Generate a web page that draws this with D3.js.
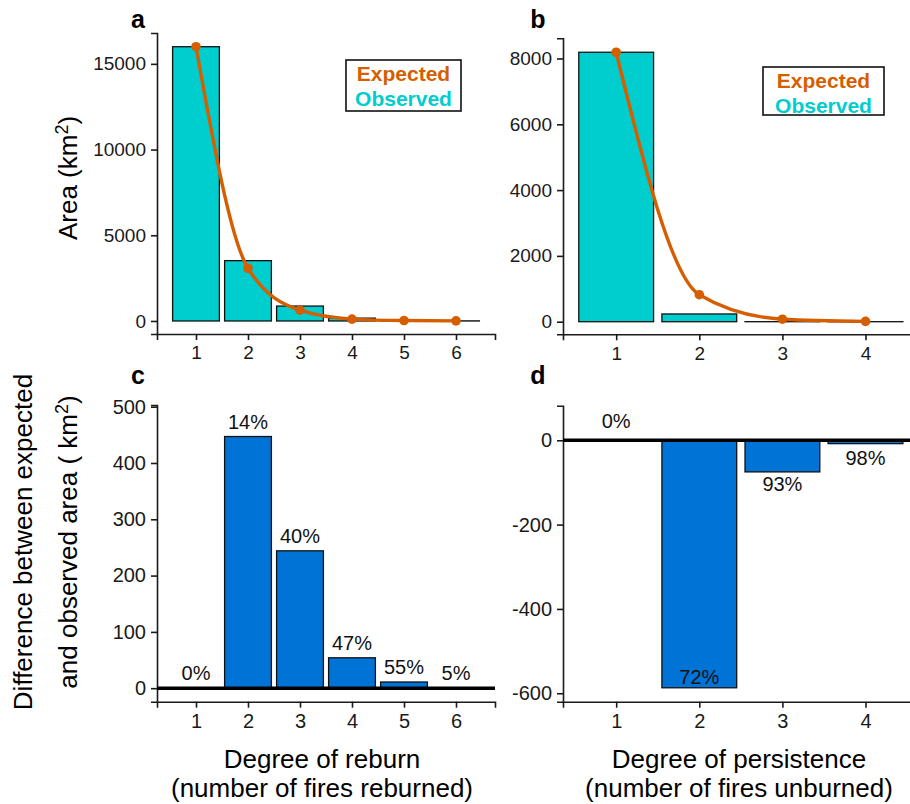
<!DOCTYPE html>
<html>
<head>
<meta charset="utf-8">
<script src="https://cdn.jsdelivr.net/npm/d3@7"></script>
<style>
  body { margin: 0; background: #fff; }
  svg { display: block; font-family: "Liberation Sans", Arial, sans-serif; }
  .axis path, .axis line { stroke: #1a1a1a; stroke-width: 1.6px; }
  .axis text { font-size: 19px; fill: #1a1a1a; }
  .axis.low text { font-size: 20px; }
</style>
</head>
<body>
<svg id="chart" width="910" height="804"></svg>
<script>
// degree of reburn (panels a, c)
const reburnDeg = [1, 2, 3, 4, 5, 6];
const reburnObserved = [16000, 3520, 870, 165, 37, 6];
const reburnExpected = [16000, 3075, 627, 110, 25, 6];
const reburnDiff = [0, 447, 244, 54, 11, 0.5];
const reburnPct = ["0%", "14%", "40%", "47%", "55%", "5%"];

// degree of persistence (panels b, d)
const persistDeg = [1, 2, 3, 4];
const persistObserved = [8190, 235, 1, 0.5];
const persistExpected = [8190, 821, 76, 9];
const persistDiff = [0, -587, -75, -8];
const persistPct = ["0%", "72%", "93%", "98%"];
const persistPctAt = [28, -577, -120, -59];

const yTicksA = [0, 5000, 10000, 15000];
const yTicksB = [0, 2000, 4000, 6000, 8000];
const yTicksC = [0, 100, 200, 300, 400, 500];
const yTicksD = [-600, -400, -200, 0];

const cyan = "#00CDCD", orange = "#D55E00", blue = "#0073D6";
const svg = d3.select("#chart");

// scales for each panel
let xLeft = d3.scaleLinear().domain([0.25, 6.75]).range([157, 495]);
let xRight = d3.scaleLinear().domain([0.36, 4.64]).range([563, 918.7]);
let yA = d3.scaleLinear().domain([-760, 16800]).range([334, 33]);
let yB = d3.scaleLinear().domain([-383, 8614]).range([334.3, 38.3]);
let yC = d3.scaleLinear().domain([-24, 503]).range([701.7, 405]);
let yD = d3.scaleLinear().domain([-620, 82]).range([701.7, 405.7]);

function drawAxes(x, y, xt, yt, cls){
    let bottom = y.range()[0], left = x.range()[0];
    svg.append("g").attr("class", "axis " + cls)
        .attr("transform", "translate(0," + bottom + ")")
        .call(d3.axisBottom(x).tickValues(xt).tickSizeOuter(0).tickSize(6).tickPadding(6).tickFormat(d => String(d)));
    svg.append("g").attr("class", "axis " + cls)
        .attr("transform", "translate(" + left + ",0)")
        .call(d3.axisLeft(y).tickValues(yt).tickSizeOuter(0).tickSize(6).tickPadding(5).tickFormat(d => String(d)));
}

function drawTop(x, y, deg, obs, exp, yt){
    let w = x(0.9) - x(0);
    svg.append("g").selectAll("rect")
        .data(deg).enter().append("rect")
        .attr("x", d => x(d) - w/2)
        .attr("width", w)
        .attr("y", (d, i) => y(obs[i]))
        .attr("height", (d, i) => y(0) - y(obs[i]))
        .style("fill", cyan).style("stroke", "#111").style("stroke-width", 1.3);
    drawAxes(x, y, deg, yt, "high");
    let line = d3.line().x(d => x(d)).y((d, i) => y(exp[i])).curve(d3.curveMonotoneX);
    svg.append("path").datum(deg).attr("d", line)
        .style("fill", "none").style("stroke", orange).style("stroke-width", 3.4);
    svg.append("g").selectAll("circle")
        .data(deg).enter().append("circle")
        .attr("cx", d => x(d)).attr("cy", (d, i) => y(exp[i])).attr("r", 4.8)
        .style("fill", orange);
}

function drawBottom(x, y, deg, diff, yt){
    let w = x(0.9) - x(0);
    svg.append("g").selectAll("rect")
        .data(deg).enter().append("rect")
        .attr("x", d => x(d) - w/2)
        .attr("width", w)
        .attr("y", (d, i) => y(Math.max(0, diff[i])))
        .attr("height", (d, i) => Math.abs(y(0) - y(diff[i])))
        .style("fill", blue).style("stroke", "#111").style("stroke-width", 1.3);
    drawAxes(x, y, deg, yt, "low");
    svg.append("line")
        .attr("x1", x.range()[0]).attr("x2", x.range()[1])
        .attr("y1", y(0)).attr("y2", y(0))
        .style("stroke", "#000").style("stroke-width", 3.5);
}

function legend(x0, y0, w, h){
    svg.append("rect").attr("x", x0).attr("y", y0).attr("width", w).attr("height", h)
        .style("fill", "#fff").style("stroke", "#111").style("stroke-width", 1.6);
    let g = svg.append("g").style("font-size", "21px").style("font-weight", "bold").attr("text-anchor", "middle");
    g.append("text").attr("x", x0 + w/2).attr("y", y0 + 21).style("fill", orange).text("Expected");
    g.append("text").attr("x", x0 + w/2).attr("y", y0 + 46).style("fill", cyan).text("Observed");
}

drawTop(xLeft, yA, reburnDeg, reburnObserved, reburnExpected, yTicksA);
drawTop(xRight, yB, persistDeg, persistObserved, persistExpected, yTicksB);
drawBottom(xLeft, yC, reburnDeg, reburnDiff, yTicksC);
drawBottom(xRight, yD, persistDeg, persistDiff, yTicksD);

legend(346, 60, 115, 51);
legend(763, 67, 121, 48);

// percentage labels
svg.append("g").attr("text-anchor", "middle").style("font-size", "20px").style("fill", "#111")
    .selectAll("text").data(reburnDeg).enter().append("text")
    .attr("x", d => xLeft(d))
    .attr("y", (d, i) => yC(reburnDiff[i]) - 8)
    .text((d, i) => reburnPct[i]);
svg.append("g").attr("text-anchor", "middle").style("font-size", "20px").style("fill", "#111")
    .selectAll("text").data(persistDeg).enter().append("text")
    .attr("x", d => xRight(d))
    .attr("y", (d, i) => yD(persistPctAt[i]))
    .text((d, i) => persistPct[i]);

// panel letters
let letters = [["a", 138, 28], ["b", 538, 28], ["c", 138, 384], ["d", 538, 384]];
svg.append("g").attr("text-anchor", "middle").style("font-size", "25px").style("font-weight", "bold")
    .selectAll("text").data(letters).enter().append("text")
    .attr("x", d => d[1]).attr("y", d => d[2]).text(d => d[0]);

// axis titles
function superTitle(tx, ty, before, after){
    let t = svg.append("text").attr("transform", "translate(" + tx + "," + ty + ") rotate(-90)")
        .attr("text-anchor", "middle").style("font-size", "26px");
    t.append("tspan").text(before);
    t.append("tspan").attr("dy", -9).style("font-size", "18px").text("2");
    t.append("tspan").attr("dy", 9).text(after);
}
superTitle(77, 178, "Area (km", ")");
svg.append("text").attr("transform", "translate(32,542) rotate(-90)")
    .attr("text-anchor", "middle").style("font-size", "26px")
    .text("Difference between expected");
superTitle(77, 542, "and observed area ( km", ")");

let xTitles = [[322, "Degree of reburn", "(number of fires reburned)"],
               [739, "Degree of persistence", "(number of fires unburned)"]];
xTitles.forEach(function(t){
    let tx = svg.append("text").attr("text-anchor", "middle").style("font-size", "26px");
    tx.append("tspan").attr("x", t[0]).attr("y", 768).text(t[1]);
    tx.append("tspan").attr("x", t[0]).attr("y", 797).text(t[2]);
});
</script>
</body>
</html>
